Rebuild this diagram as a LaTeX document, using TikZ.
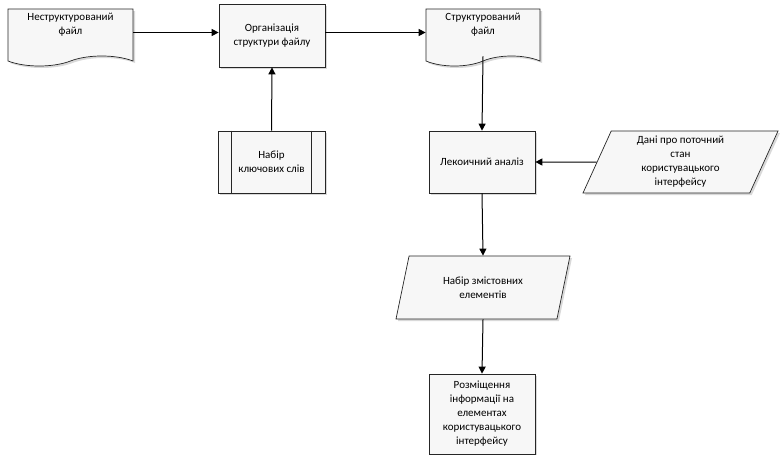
\documentclass[tikz,border=0pt]{standalone}
\usepackage{fontspec}
\setmainfont{Carlito}
\usetikzlibrary{positioning,arrows.meta,shapes.geometric,shapes.symbols,shadows}

\begin{document}
\begin{tikzpicture}[x=1pt, y=-1pt,
    shd/.style       ={drop shadow={shadow xshift=2pt, shadow yshift=-2pt, opacity=0.25, fill=black!60}},
    blk/.style       ={rectangle, draw=black!85, fill=black!3, line width=0.7pt, align=center,
                       font=\fontsize{11}{14}\selectfont, inner sep=2pt, shd},
    doc/.style       ={blk, shape=tape, tape bend top=none, tape bend bottom=in and out, tape bend height=10pt},
    io/.style        ={blk, shape=trapezium, trapezium stretches body, trapezium left angle=63, trapezium right angle=117},
    arr/.style       ={draw=black, line width=1pt, -{Triangle[length=7pt, width=7pt]}}
  ]
    % --- page frame (780 x 455 px) ---
    \useasboundingbox (0,0) rectangle (780,455);

    % --- top row ---
    \node[doc, minimum width=125pt, minimum height=57pt] (nefile) at (70.5,32.5) {Неструктурований\\файл\\[3pt]};
    \node[blk, minimum width=106pt, minimum height=63pt] (org) at (272,35.5) {Організація\\структури файлу};
    \node[doc, minimum width=114pt, minimum height=57pt] (strfile) at (483,32.5) {Структурований\\файл\\[3pt]};

    % key words (predefined process)
    \node[blk, minimum width=107pt, minimum height=62pt] (keywords) at (271.5,162) {Набір\\ключових слів};
    \draw[black!85, line width=0.7pt] ([xshift=14pt]keywords.north west) -- ([xshift=14pt]keywords.south west);
    \draw[black!85, line width=0.7pt] ([xshift=-14pt]keywords.north east) -- ([xshift=-14pt]keywords.south east);

    % --- right column ---
    \node[blk, minimum width=106pt, minimum height=62pt] (lex) at (482,162) {Лекоичний аналіз};
    \node[io, minimum width=195pt, minimum height=62pt] (uistate) at (680.5,162) {Дані про поточний\\стан\\користувацького\\інтерфейсу};
    \node[io, minimum width=174pt, minimum height=63pt] (items) at (483,287.5) {Набір змістовних\\елементів};
    \node[blk, minimum width=106pt, minimum height=80pt] (place) at (482,414) {Розміщення\\інформації на\\елементах\\користувацького\\інтерфейсу};

    % --- connectors ---
    \draw[arr] (nefile.east) -- (nefile.east -| org.west);
    \draw[arr] (org.east |- strfile.west) -- (strfile.west);
    \draw[arr] (keywords.north) -- (org.south);
    \draw[arr] (strfile.south) -- (lex.north);
    \draw[arr] (uistate.west) -- (lex.east);
    \draw[arr] (lex.south) -- (items.north);
    \draw[arr] (items.south) -- (place.north);
\end{tikzpicture}
\end{document}
